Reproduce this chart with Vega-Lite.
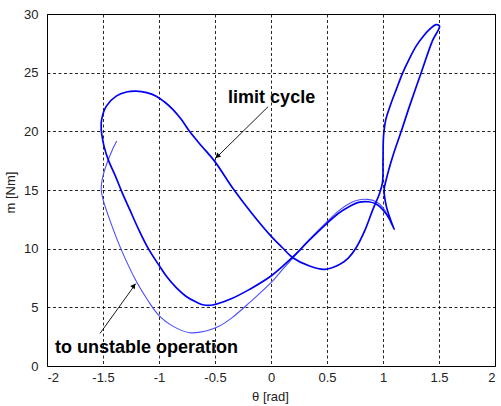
{
  "$schema": "https://vega.github.io/schema/vega-lite/v6.json",
  "width": 448,
  "height": 352,
  "autosize": {"type": "none"},
  "padding": {"left": 47, "top": 14, "right": 6, "bottom": 40},
  "background": "white",
  "config": {
    "font": "Liberation Sans",
    "view": {"stroke": "black", "strokeWidth": 1},
    "axis": {
      "domain": false,
      "ticks": false,
      "grid": true,
      "gridColor": "#000000",
      "gridOpacity": 0.85,
      "gridDash": [3, 2.5],
      "gridWidth": 1,
      "labelFont": "Liberation Sans",
      "labelFontSize": 13,
      "labelColor": "#222222",
      "titleFont": "Liberation Sans",
      "titleFontSize": 13,
      "titleFontWeight": "normal",
      "titleColor": "#222222"
    }
  },
  "datasets": {
    "traj": [
      {"series": "limit", "step": 1, "theta": -1.515, "m": 20.0},
      {"series": "limit", "step": 2, "theta": -1.512, "m": 21.0},
      {"series": "limit", "step": 3, "theta": -1.47, "m": 22.15},
      {"series": "limit", "step": 4, "theta": -1.382, "m": 23.0},
      {"series": "limit", "step": 5, "theta": -1.29, "m": 23.35},
      {"series": "limit", "step": 6, "theta": -1.204, "m": 23.42},
      {"series": "limit", "step": 7, "theta": -1.11, "m": 23.3},
      {"series": "limit", "step": 8, "theta": -1.025, "m": 23.0},
      {"series": "limit", "step": 9, "theta": -0.95, "m": 22.5},
      {"series": "limit", "step": 10, "theta": -0.877, "m": 21.87},
      {"series": "limit", "step": 11, "theta": -0.8, "m": 21.0},
      {"series": "limit", "step": 12, "theta": -0.728, "m": 20.0},
      {"series": "limit", "step": 13, "theta": -0.62, "m": 18.75},
      {"series": "limit", "step": 14, "theta": -0.504, "m": 17.46},
      {"series": "limit", "step": 15, "theta": -0.341, "m": 15.15},
      {"series": "limit", "step": 16, "theta": -0.17, "m": 13.0},
      {"series": "limit", "step": 17, "theta": 0.0, "m": 11.07},
      {"series": "limit", "step": 18, "theta": 0.1, "m": 10.1},
      {"series": "limit", "step": 19, "theta": 0.195, "m": 9.23},
      {"series": "limit", "step": 20, "theta": 0.344, "m": 8.52},
      {"series": "limit", "step": 21, "theta": 0.478, "m": 8.24},
      {"series": "limit", "step": 22, "theta": 0.612, "m": 8.66},
      {"series": "limit", "step": 23, "theta": 0.69, "m": 9.2},
      {"series": "limit", "step": 24, "theta": 0.76, "m": 10.08},
      {"series": "limit", "step": 25, "theta": 0.84, "m": 11.6},
      {"series": "limit", "step": 26, "theta": 0.91, "m": 13.35},
      {"series": "limit", "step": 27, "theta": 0.965, "m": 14.6},
      {"series": "limit", "step": 28, "theta": 0.995, "m": 15.6},
      {"series": "limit", "step": 29, "theta": 1.0, "m": 17.5},
      {"series": "limit", "step": 30, "theta": 1.005, "m": 19.6},
      {"series": "limit", "step": 31, "theta": 1.025, "m": 21.0},
      {"series": "limit", "step": 32, "theta": 1.065, "m": 22.2},
      {"series": "limit", "step": 33, "theta": 1.12, "m": 23.6},
      {"series": "limit", "step": 34, "theta": 1.177, "m": 25.0},
      {"series": "limit", "step": 35, "theta": 1.236, "m": 26.2},
      {"series": "limit", "step": 36, "theta": 1.296, "m": 27.26},
      {"series": "limit", "step": 37, "theta": 1.36, "m": 28.1},
      {"series": "limit", "step": 38, "theta": 1.415, "m": 28.68},
      {"series": "limit", "step": 39, "theta": 1.475, "m": 29.1},
      {"series": "limit", "step": 40, "theta": 1.505, "m": 28.95},
      {"series": "limit", "step": 41, "theta": 1.48, "m": 28.4},
      {"series": "limit", "step": 42, "theta": 1.445, "m": 27.8},
      {"series": "limit", "step": 43, "theta": 1.341, "m": 25.0},
      {"series": "limit", "step": 44, "theta": 1.237, "m": 22.15},
      {"series": "limit", "step": 45, "theta": 1.163, "m": 20.0},
      {"series": "limit", "step": 46, "theta": 1.088, "m": 17.9},
      {"series": "limit", "step": 47, "theta": 1.029, "m": 15.9},
      {"series": "limit", "step": 48, "theta": 1.01, "m": 15.0},
      {"series": "limit", "step": 49, "theta": 1.03, "m": 13.6},
      {"series": "limit", "step": 50, "theta": 1.07, "m": 12.4},
      {"series": "limit", "step": 51, "theta": 1.1, "m": 11.65},
      {"series": "limit", "step": 52, "theta": 1.06, "m": 12.5},
      {"series": "limit", "step": 53, "theta": 1.0, "m": 13.3},
      {"series": "limit", "step": 54, "theta": 0.94, "m": 13.8},
      {"series": "limit", "step": 55, "theta": 0.87, "m": 14.0},
      {"series": "limit", "step": 56, "theta": 0.78, "m": 13.95},
      {"series": "limit", "step": 57, "theta": 0.7, "m": 13.6},
      {"series": "limit", "step": 58, "theta": 0.6, "m": 13.0},
      {"series": "limit", "step": 59, "theta": 0.49, "m": 12.07},
      {"series": "limit", "step": 60, "theta": 0.34, "m": 10.7},
      {"series": "limit", "step": 61, "theta": 0.195, "m": 9.3},
      {"series": "limit", "step": 62, "theta": 0.0, "m": 7.67},
      {"series": "limit", "step": 63, "theta": -0.192, "m": 6.53},
      {"series": "limit", "step": 64, "theta": -0.35, "m": 5.75},
      {"series": "limit", "step": 65, "theta": -0.52, "m": 5.2},
      {"series": "limit", "step": 66, "theta": -0.6, "m": 5.2},
      {"series": "limit", "step": 67, "theta": -0.668, "m": 5.45},
      {"series": "limit", "step": 68, "theta": -0.76, "m": 5.95},
      {"series": "limit", "step": 69, "theta": -0.846, "m": 6.68},
      {"series": "limit", "step": 70, "theta": -0.93, "m": 7.6},
      {"series": "limit", "step": 71, "theta": -0.996, "m": 8.52},
      {"series": "limit", "step": 72, "theta": -1.095, "m": 10.0},
      {"series": "limit", "step": 73, "theta": -1.18, "m": 11.6},
      {"series": "limit", "step": 74, "theta": -1.26, "m": 13.3},
      {"series": "limit", "step": 75, "theta": -1.33, "m": 14.8},
      {"series": "limit", "step": 76, "theta": -1.39, "m": 16.2},
      {"series": "limit", "step": 77, "theta": -1.45, "m": 17.5},
      {"series": "limit", "step": 78, "theta": -1.49, "m": 18.7},
      {"series": "limit", "step": 79, "theta": -1.515, "m": 20.0},

      {"series": "unstable", "step": 1, "theta": 1.08, "m": 12.0},
      {"series": "unstable", "step": 2, "theta": 1.0, "m": 13.5},
      {"series": "unstable", "step": 3, "theta": 0.94, "m": 14.0},
      {"series": "unstable", "step": 4, "theta": 0.86, "m": 14.2},
      {"series": "unstable", "step": 5, "theta": 0.78, "m": 14.15},
      {"series": "unstable", "step": 6, "theta": 0.7, "m": 13.85},
      {"series": "unstable", "step": 7, "theta": 0.6, "m": 13.2},
      {"series": "unstable", "step": 8, "theta": 0.49, "m": 12.2},
      {"series": "unstable", "step": 9, "theta": 0.34, "m": 10.75},
      {"series": "unstable", "step": 10, "theta": 0.195, "m": 9.2},
      {"series": "unstable", "step": 11, "theta": 0.1, "m": 8.2},
      {"series": "unstable", "step": 12, "theta": 0.0, "m": 7.1},
      {"series": "unstable", "step": 13, "theta": -0.192, "m": 5.4},
      {"series": "unstable", "step": 14, "theta": -0.35, "m": 4.1},
      {"series": "unstable", "step": 15, "theta": -0.46, "m": 3.4},
      {"series": "unstable", "step": 16, "theta": -0.58, "m": 2.98},
      {"series": "unstable", "step": 17, "theta": -0.728, "m": 2.84},
      {"series": "unstable", "step": 18, "theta": -0.877, "m": 3.4},
      {"series": "unstable", "step": 19, "theta": -1.0, "m": 4.3},
      {"series": "unstable", "step": 20, "theta": -1.1, "m": 5.6},
      {"series": "unstable", "step": 21, "theta": -1.204, "m": 7.24},
      {"series": "unstable", "step": 22, "theta": -1.338, "m": 9.94},
      {"series": "unstable", "step": 23, "theta": -1.43, "m": 12.2},
      {"series": "unstable", "step": 24, "theta": -1.5, "m": 14.2},
      {"series": "unstable", "step": 25, "theta": -1.516, "m": 15.05},
      {"series": "unstable", "step": 26, "theta": -1.5, "m": 16.2},
      {"series": "unstable", "step": 27, "theta": -1.44, "m": 17.9},
      {"series": "unstable", "step": 28, "theta": -1.377, "m": 19.2}
    ],
    "notes": [
      {"label": "limit cycle", "theta": -0.383, "m": 22.39},
      {"label": "to unstable operation", "theta": -1.929, "m": 1.13}
    ],
    "arrows": [
      {"label": "limit cycle", "theta": -0.026, "m": 22.1, "theta2": -0.501, "m2": 17.64, "headTheta": -0.479, "headM": 17.87},
      {"label": "to unstable operation", "theta": -1.527, "m": 2.77, "theta2": -1.206, "m2": 7.03, "headTheta": -1.224, "headM": 6.85}
    ]
  },
  "layer": [
    {
      "data": {"name": "traj"},
      "transform": [{"filter": "datum.series === 'unstable'"}],
      "mark": {"type": "line", "interpolate": "catmull-rom", "color": "#4d4dff", "strokeWidth": 1.1},
      "encoding": {
        "x": {
          "field": "theta", "type": "quantitative",
          "scale": {"domain": [-2, 2], "nice": false, "zero": false},
          "axis": {
            "values": [-2, -1.5, -1, -0.5, 0, 0.5, 1, 1.5, 2],
            "labelExpr": "'' + datum.value",
            "labelPadding": 5,
            "title": "θ [rad]",
            "titleX": 223,
            "titleY": 30,
            "titleBaseline": "middle",
            "titleAnchor": "middle",
            "titleAlign": "center"
          }
        },
        "y": {
          "field": "m", "type": "quantitative",
          "scale": {"domain": [0, 30], "nice": false, "zero": false},
          "axis": {
            "values": [0, 5, 10, 15, 20, 25, 30],
            "labelExpr": "'' + datum.value",
            "labelPadding": 9,
            "title": "m [Nm]",
            "titleX": -37,
            "titleY": 178,
            "titleBaseline": "middle",
            "titleAlign": "center",
            "titleAngle": -90
          }
        },
        "order": {"field": "step", "type": "quantitative"}
      }
    },
    {
      "data": {"name": "traj"},
      "transform": [{"filter": "datum.series === 'limit'"}],
      "mark": {"type": "line", "interpolate": "catmull-rom", "color": "#0000f5", "strokeWidth": 1.7},
      "encoding": {
        "x": {"field": "theta", "type": "quantitative"},
        "y": {"field": "m", "type": "quantitative"},
        "order": {"field": "step", "type": "quantitative"}
      }
    },
    {
      "data": {"name": "arrows"},
      "mark": {"type": "rule", "color": "black", "strokeWidth": 0.9},
      "encoding": {
        "x": {"field": "theta", "type": "quantitative"},
        "y": {"field": "m", "type": "quantitative"},
        "x2": {"field": "theta2"},
        "y2": {"field": "m2"}
      }
    },
    {
      "data": {"name": "arrows"},
      "transform": [{"filter": "datum.label === 'limit cycle'"}],
      "mark": {"type": "point", "shape": "triangle-up", "filled": true, "color": "black", "opacity": 1, "size": 32, "angle": 226},
      "encoding": {
        "x": {"field": "headTheta", "type": "quantitative"},
        "y": {"field": "headM", "type": "quantitative"}
      }
    },
    {
      "data": {"name": "arrows"},
      "transform": [{"filter": "datum.label === 'to unstable operation'"}],
      "mark": {"type": "point", "shape": "triangle-up", "filled": true, "color": "black", "opacity": 1, "size": 32, "angle": 36},
      "encoding": {
        "x": {"field": "headTheta", "type": "quantitative"},
        "y": {"field": "headM", "type": "quantitative"}
      }
    },
    {
      "data": {"name": "notes"},
      "mark": {"type": "text", "align": "left", "baseline": "alphabetic", "font": "Liberation Sans", "fontSize": 18, "fontWeight": "bold", "color": "black"},
      "encoding": {
        "x": {"field": "theta", "type": "quantitative"},
        "y": {"field": "m", "type": "quantitative"},
        "text": {"field": "label"}
      }
    }
  ]
}
